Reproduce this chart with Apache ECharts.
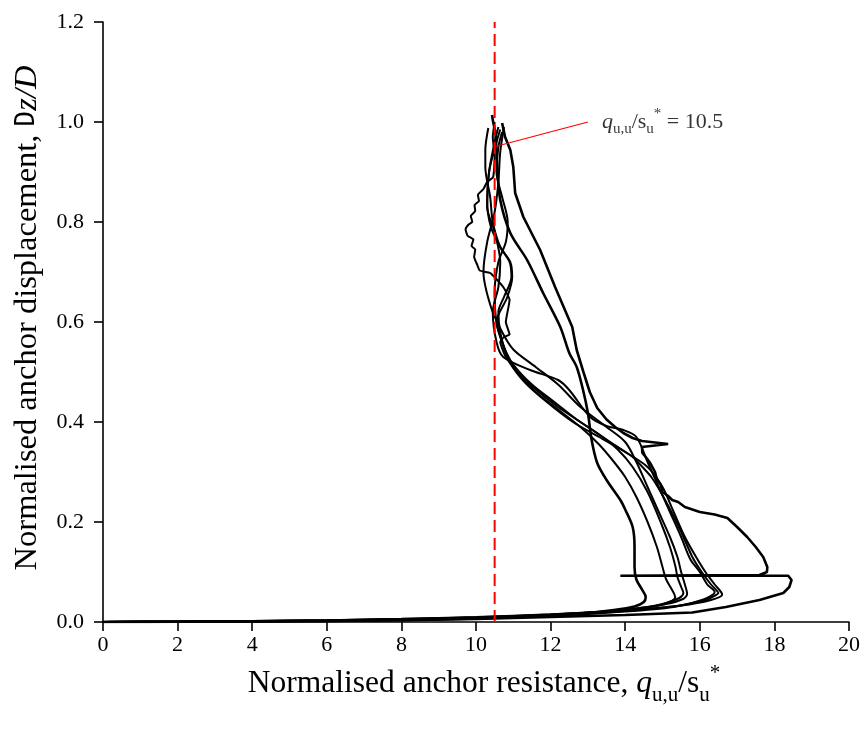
<!DOCTYPE html>
<html>
<head>
<meta charset="utf-8">
<script src="https://cdn.jsdelivr.net/npm/echarts@6/dist/echarts.min.js"></script>
<style>
html,body{margin:0;padding:0;background:#fff;}
#chart{width:864px;height:731px;}
</style>
</head>
<body>
<div id="chart"></div>
<script>
// ---- data (x = q_uu/su*, y = Dz/D) ----
var xTicks = [0, 2, 4, 6, 8, 10, 12, 14, 16, 18, 20];
var yTicks = [0.0, 0.2, 0.4, 0.6, 0.8, 1.0, 1.2];
var refValue = 10.5;

var curveA = [[0,0],[2,0.0005],[4,0.001],[6,0.002],[8,0.004],[10,0.007],[11.5,0.011],[12.8,0.017],[13.7,0.024],[14.25,0.031],[14.5,0.04],[14.55,0.05],[14.45,0.065],[14.3,0.085],[14.25,0.11],[14.25,0.15],[14.2,0.19],[14.0,0.225],[13.87,0.244],[13.5,0.284],[13.25,0.318],[13.1,0.364],[13.0,0.418],[12.87,0.464],[12.7,0.51],[12.5,0.538],[12.26,0.59],[11.8,0.658],[11.37,0.724],[10.92,0.778],[10.65,0.844],[10.57,0.91],[10.52,0.978],[10.46,1.0],[10.43,1.014]];

var curveB = [[0,0],[2,0.0005],[4,0.0015],[6,0.0025],[8,0.0045],[10,0.0075],[11.5,0.011],[13,0.016],[14.2,0.024],[14.9,0.033],[15.25,0.042],[15.34,0.05],[15.25,0.065],[15.1,0.085],[15.0,0.11],[14.85,0.15],[14.6,0.2],[14.3,0.25],[14.0,0.29],[13.7,0.32],[13.3,0.355],[12.8,0.39],[12.2,0.425],[11.6,0.46],[11.1,0.5],[10.8,0.54],[10.65,0.58],[10.6,0.62],[10.75,0.65],[10.95,0.69],[10.9,0.72],[10.65,0.75],[10.4,0.79],[10.3,0.84],[10.35,0.9],[10.5,0.96],[10.6,0.99]];

var curveC = [[0,0],[2,0.0006],[4,0.0016],[6,0.003],[8,0.005],[10,0.008],[11.5,0.012],[13,0.018],[14.2,0.026],[15.0,0.036],[15.45,0.048],[15.56,0.058],[15.5,0.07],[15.4,0.09],[15.35,0.11],[15.2,0.15],[14.95,0.2],[14.6,0.26],[14.2,0.31],[13.8,0.345],[13.3,0.375],[12.7,0.405],[12.1,0.44],[11.5,0.475],[11.0,0.515],[10.75,0.55],[10.55,0.6],[10.5,0.66],[10.6,0.72],[10.8,0.76],[10.85,0.8],[10.7,0.85],[10.55,0.9],[10.6,0.95],[10.7,0.98]];

var curveD = [[0,0],[2,0.0006],[4,0.0017],[6,0.003],[8,0.0052],[10,0.0085],[11.5,0.0125],[13,0.019],[14.3,0.027],[15.1,0.036],[15.55,0.046],[15.66,0.056],[15.6,0.075],[15.5,0.1],[15.4,0.13],[15.2,0.17],[14.9,0.22],[14.6,0.27],[14.3,0.32],[14.0,0.36],[13.5,0.39],[12.8,0.43],[12.2,0.475],[11.6,0.51],[11.0,0.545],[10.7,0.58],[10.4,0.63],[10.2,0.7],[10.3,0.76],[10.5,0.82],[10.6,0.88],[10.65,0.94],[10.75,0.99]];

var curveE = [[0,0],[2,0.0007],[4,0.0018],[6,0.0033],[8,0.0055],[10,0.009],[12,0.014],[14,0.021],[15.3,0.03],[16.1,0.045],[16.4,0.06],[16.2,0.075],[16.0,0.1],[15.75,0.125],[15.5,0.17],[15.2,0.22],[14.9,0.27],[14.6,0.32],[14.3,0.37],[13.95,0.384],[13.5,0.392],[13.06,0.41],[12.5,0.464],[12.2,0.484],[11.45,0.504],[10.73,0.53],[10.55,0.56],[10.45,0.62],[10.6,0.67],[10.65,0.72],[10.5,0.78],[10.3,0.83],[10.35,0.9],[10.55,0.96],[10.65,0.985]];

var curveF = [[0,0],[2,0.0007],[4,0.0019],[6,0.0035],[8,0.006],[10,0.0095],[12,0.015],[14,0.022],[15.4,0.032],[16.2,0.045],[16.5,0.058],[16.3,0.075],[16.05,0.1],[15.8,0.13],[15.5,0.18],[15.1,0.24],[14.7,0.29],[14.2,0.33],[13.6,0.36],[12.9,0.395],[12.2,0.43],[11.6,0.465],[11.1,0.5],[10.8,0.53],[10.65,0.56],[10.75,0.57],[10.9,0.575],[10.8,0.6],[10.9,0.644],[10.73,0.67],[10.38,0.698],[10.1,0.703],[10.03,0.715],[9.95,0.73],[9.98,0.745],[9.88,0.752],[9.93,0.765],[9.78,0.772],[9.72,0.785],[9.8,0.795],[9.9,0.8],[9.86,0.812],[9.98,0.822],[9.96,0.834],[10.08,0.842],[10.05,0.854],[10.2,0.866],[10.3,0.88],[10.46,0.89],[10.5,0.93],[10.45,0.97],[10.5,1.0]];

var curveG = [[0,0],[2,0.0008],[4,0.002],[6,0.0037],[8,0.0063],[10,0.01],[12,0.0155],[14,0.023],[15.5,0.033],[16.3,0.044],[16.6,0.055],[16.4,0.075],[16.15,0.1],[15.9,0.13],[15.6,0.17],[15.3,0.22],[15.0,0.27],[14.6,0.31],[14.0,0.34],[13.3,0.37],[12.6,0.4],[11.9,0.44],[11.3,0.48],[10.9,0.52],[10.7,0.56],[10.55,0.6],[10.84,0.65],[10.97,0.69],[10.92,0.72],[10.65,0.75],[10.45,0.8],[10.38,0.85],[10.25,0.91],[10.25,0.944],[10.33,0.988]];

var curveH = [[0,0],[2,0.0005],[4,0.001],[6,0.002],[8,0.0035],[10,0.006],[12,0.01],[14,0.014],[15.8,0.019],[16.7,0.03],[17.6,0.044],[18.24,0.058],[18.4,0.07],[18.46,0.084],[18.37,0.0925],[16,0.0925],[13.87,0.0925],[16,0.0935],[17.6,0.094],[17.8,0.1],[17.81,0.11],[17.7,0.13],[17.5,0.15],[17.27,0.17],[17.0,0.19],[16.74,0.208],[16.4,0.215],[16.0,0.22],[15.6,0.23],[15.42,0.24],[15.26,0.244],[15.15,0.252],[15.0,0.26],[14.95,0.275],[14.85,0.285],[14.8,0.3],[14.67,0.318],[14.55,0.33],[14.46,0.338],[14.45,0.35],[15.15,0.356],[14.45,0.362],[14.2,0.368],[13.95,0.378],[13.73,0.39],[13.5,0.405],[13.25,0.428],[13.05,0.46],[12.88,0.5],[12.7,0.544],[12.58,0.59],[12.12,0.67],[11.72,0.744],[11.27,0.81],[11.05,0.858],[11.0,0.91],[10.92,0.944],[10.78,0.97],[10.7,0.998]];

var refLine = [[refValue, 0], [refValue, 1.2]];
var leader = [[13.0, 1.0], [10.52, 0.951]];
var annotationText = '= 10.5';

var FONT = '"Liberation Serif", "Times New Roman", serif';

function blackSeries(data, width, smooth) {
  return {
    type: 'line', data: data, showSymbol: false, symbol: 'none',
    smooth: smooth, silent: true, animation: false, clip: true,
    lineStyle: { color: '#000', width: width }
  };
}

function richFor(size) {
  var sub = Math.round(size * 0.67);
  var lh = Math.round(size * 1.35);
  return {
    n: { fontFamily: FONT, fontSize: size, lineHeight: lh, color: '#000' },
    i: { fontFamily: FONT, fontSize: size, lineHeight: lh, fontStyle: 'italic', color: '#000' },
    sub: { fontFamily: FONT, fontSize: sub, lineHeight: sub, verticalAlign: 'bottom', color: '#000' },
    sup: { fontFamily: FONT, fontSize: sub, lineHeight: sub, verticalAlign: 'top', color: '#000' },
    dd: { fontFamily: '"DejaVu Sans Mono", monospace', fontSize: Math.round(size * 0.8), lineHeight: lh, color: '#000' }
  };
}

var chart = echarts.init(document.getElementById('chart'));

var option = {
  backgroundColor: '#fff',
  animation: false,
  grid: { left: 103, right: 15, top: 22, bottom: 109, containLabel: false },
  xAxis: {
    type: 'value', min: 0, max: 20, interval: 2,
    axisLine: { show: true, onZero: false, lineStyle: { color: '#000', width: 1.6 } },
    axisTick: { show: true, inside: false, length: 9, lineStyle: { color: '#000', width: 1.6 } },
    axisLabel: { color: '#000', fontFamily: FONT, fontSize: 22, margin: 12 },
    splitLine: { show: false }
  },
  yAxis: {
    type: 'value', min: 0, max: 1.2, interval: 0.2,
    axisLine: { show: true, onZero: false, lineStyle: { color: '#000', width: 1.6 } },
    axisTick: { show: true, inside: false, length: 9, lineStyle: { color: '#000', width: 1.6 } },
    axisLabel: { color: '#000', fontFamily: FONT, fontSize: 22, margin: 19,
      formatter: function (v) { return v.toFixed(1); } },
    splitLine: { show: false }
  },
  graphic: [
    {
      type: 'text', x: 484, y: 684, silent: true,
      style: {
        text: '{n|Normalised anchor resistance, }{i|q}{sub|u,u}{n|/s}{sub|u}{sup|*}',
        rich: richFor(31.5), align: 'center', verticalAlign: 'middle'
      }
    },
    {
      type: 'text', x: 27, y: 318, rotation: Math.PI / 2, silent: true,
      style: {
        text: '{n|Normalised anchor displacement, }{dd|D}{i|z/D}',
        rich: richFor(32.5), align: 'center', verticalAlign: 'middle'
      }
    }
  ],
  series: [
    blackSeries(curveB, 2, 0.3),
    blackSeries(curveC, 2, 0.3),
    blackSeries(curveD, 2, 0.3),
    blackSeries(curveE, 2, 0.3),
    blackSeries(curveF, 2, 0.15),
    blackSeries(curveG, 2, 0.3),
    blackSeries(curveA, 2.6, 0.3),
    blackSeries(curveH, 2.6, false),
    {
      type: 'line', data: refLine, showSymbol: false, symbol: 'none', silent: true,
      lineStyle: { color: '#ff0000', width: 2, type: [12, 6] }
    },
    {
      type: 'line', data: leader, showSymbol: false, symbol: 'none', silent: true,
      lineStyle: { color: '#ff0000', width: 1.2 }
    },
    {
      type: 'scatter', data: [leader[0]], symbolSize: 0, silent: true,
      label: {
        show: true, position: 'right', distance: 14,
        formatter: '{i|q}{sub|u,u}{n|/s}{sub|u}{sup|*}{n| ' + annotationText + '}',
        rich: richFor(22)
      }
    }
  ]
};
chart.setOption(option);
</script>
</body>
</html>
